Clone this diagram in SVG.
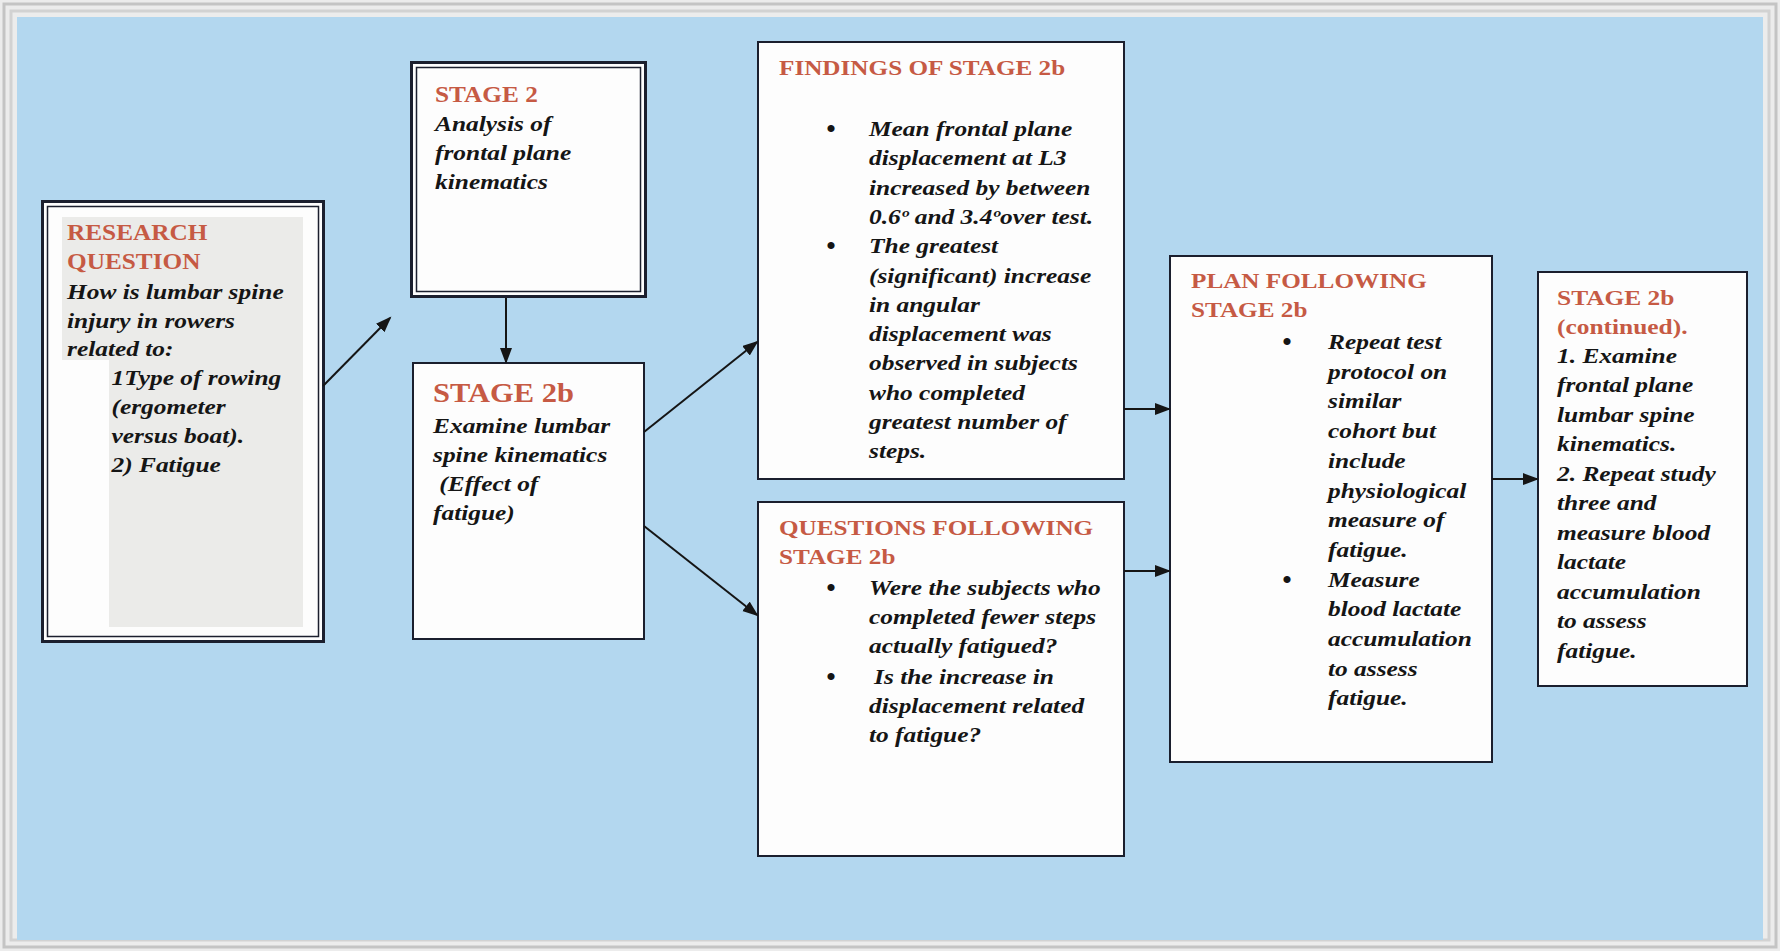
<svg xmlns="http://www.w3.org/2000/svg" width="1780" height="951" viewBox="0 0 1780 951">
<style>
.h{font-family:"Liberation Serif","Times New Roman",serif;font-weight:bold;fill:#c65a44;}
.b{font-family:"Liberation Serif","Times New Roman",serif;font-weight:bold;font-style:italic;fill:#151515;font-size:20px;}
.bul{font-family:"Liberation Serif","Times New Roman",serif;font-size:30px;fill:#151515;text-anchor:middle;}
.box{fill:#fdfdfd;stroke:#1b1f2e;stroke-width:2;}
.thick{fill:#fdfdfd;stroke:#1b1f2e;stroke-width:3;}
.thin{fill:none;stroke:#1b1f2e;stroke-width:1.5;}
.conn{stroke:#151515;stroke-width:2;fill:none;marker-end:url(#ah);}
</style>
<defs>
<marker id="ah" markerUnits="userSpaceOnUse" markerWidth="18" markerHeight="14" refX="14" refY="6" orient="auto">
<path d="M0,0 L16,6 L0,12 Z" fill="#151515"/>
</marker>
</defs>
<g id="frame">
<rect x="0" y="0" width="1780" height="951" fill="#ececec"/>
<rect x="4" y="4" width="1772" height="943" fill="none" stroke="#c4c4c4" stroke-width="3"/>
<rect x="11" y="11" width="1758" height="929" fill="none" stroke="#d2d2d2" stroke-width="3"/>
<rect x="17" y="17" width="1746" height="923" fill="#b3d7ef"/>
</g>
<g id="research">
<rect class="thick" x="42.5" y="201.5" width="281" height="440"/>
<rect class="thin" x="47.5" y="206.5" width="271" height="430"/>
<path d="M62,217 H303 V627 H109 V360 H62 Z" fill="#ebebe9"/>
<g transform="translate(67,0) scale(1.1,1)">
<text class="h" font-size="23" x="0" y="240">RESEARCH</text>
<text class="h" font-size="23" x="0" y="269">QUESTION</text>
</g>
<g transform="translate(67,0) scale(1.27,1)">
<text class="b" x="0" y="299">How is lumbar spine</text>
<text class="b" x="0" y="328">injury in rowers</text>
<text class="b" x="0" y="356">related to:</text>
<text class="b" x="35" y="385">1Type of rowing</text>
<text class="b" x="35" y="414">(ergometer</text>
<text class="b" x="35" y="443">versus boat).</text>
<text class="b" x="35" y="472">2) Fatigue</text>
</g>
</g>
<g id="stage2">
<rect class="thick" x="411.5" y="62.5" width="234" height="234"/>
<rect class="thin" x="416.5" y="67.5" width="224" height="224"/>
<g transform="translate(435,0) scale(1.1,1)">
<text class="h" font-size="23" x="0" y="102">STAGE 2</text>
</g>
<g transform="translate(435,0) scale(1.27,1)">
<text class="b" x="0" y="131">Analysis of</text>
<text class="b" x="0" y="160">frontal plane</text>
<text class="b" x="0" y="189">kinematics</text>
</g>
</g>
<g id="stage2b">
<rect class="box" x="413" y="363" width="231" height="276"/>
<g transform="translate(433,0) scale(1.13,1)">
<text class="h" font-size="27" x="0" y="402">STAGE 2b</text>
</g>
<g transform="translate(433,0) scale(1.27,1)">
<text class="b" x="0" y="433">Examine lumbar</text>
<text class="b" x="0" y="462">spine kinematics</text>
<text class="b" x="5" y="491">(Effect of</text>
<text class="b" x="0" y="520">fatigue)</text>
</g>
</g>
<g id="findings">
<rect class="box" x="758" y="42" width="366" height="437"/>
<g transform="translate(779,0) scale(1.26,1)">
<text class="h" font-size="20" x="0" y="75">FINDINGS OF STAGE 2b</text>
</g>
<text class="bul" x="831" y="139">•</text>
<text class="bul" x="831" y="256">•</text>
<g transform="translate(869,0) scale(1.27,1)">
<text class="b" x="0" y="136">Mean frontal plane</text>
<text class="b" x="0" y="165">displacement at L3</text>
<text class="b" x="0" y="195">increased by between</text>
<text class="b" x="0" y="224">0.6º and 3.4ºover test.</text>
<text class="b" x="0" y="253">The greatest</text>
<text class="b" x="0" y="283">(significant) increase</text>
<text class="b" x="0" y="312">in angular</text>
<text class="b" x="0" y="341">displacement was</text>
<text class="b" x="0" y="370">observed in subjects</text>
<text class="b" x="0" y="400">who completed</text>
<text class="b" x="0" y="429">greatest number of</text>
<text class="b" x="0" y="458">steps.</text>
</g>
</g>
<g id="questions">
<rect class="box" x="758" y="502" width="366" height="354"/>
<g transform="translate(779,0) scale(1.26,1)">
<text class="h" font-size="20" x="0" y="535">QUESTIONS FOLLOWING</text>
<text class="h" font-size="20" x="0" y="564">STAGE 2b</text>
</g>
<text class="bul" x="831" y="598">•</text>
<text class="bul" x="831" y="687">•</text>
<g transform="translate(869,0) scale(1.27,1)">
<text class="b" x="0" y="595">Were the subjects who</text>
<text class="b" x="0" y="624">completed fewer steps</text>
<text class="b" x="0" y="653">actually fatigued?</text>
<text class="b" x="4" y="684">Is the increase in</text>
<text class="b" x="0" y="713">displacement related</text>
<text class="b" x="0" y="742">to fatigue?</text>
</g>
</g>
<g id="plan">
<rect class="box" x="1170" y="256" width="322" height="506"/>
<g transform="translate(1191,0) scale(1.26,1)">
<text class="h" font-size="20" x="0" y="288">PLAN FOLLOWING</text>
<text class="h" font-size="20" x="0" y="317">STAGE 2b</text>
</g>
<text class="bul" x="1287" y="352">•</text>
<text class="bul" x="1287" y="590">•</text>
<g transform="translate(1328,0) scale(1.27,1)">
<text class="b" x="0" y="349">Repeat test</text>
<text class="b" x="0" y="379">protocol on</text>
<text class="b" x="0" y="408">similar</text>
<text class="b" x="0" y="438">cohort but</text>
<text class="b" x="0" y="468">include</text>
<text class="b" x="0" y="498">physiological</text>
<text class="b" x="0" y="527">measure of</text>
<text class="b" x="0" y="557">fatigue.</text>
<text class="b" x="0" y="587">Measure</text>
<text class="b" x="0" y="616">blood lactate</text>
<text class="b" x="0" y="646">accumulation</text>
<text class="b" x="0" y="676">to assess</text>
<text class="b" x="0" y="705">fatigue.</text>
</g>
</g>
<g id="continued">
<rect class="box" x="1538" y="272" width="209" height="414"/>
<g transform="translate(1557,0) scale(1.27,1)">
<text class="h" font-size="20" x="0" y="305">STAGE 2b</text>
<text class="h" font-size="20" x="0" y="334">(continued).</text>
<text class="b" x="0" y="363">1. Examine</text>
<text class="b" x="0" y="392">frontal plane</text>
<text class="b" x="0" y="422">lumbar spine</text>
<text class="b" x="0" y="451">kinematics.</text>
<text class="b" x="0" y="481">2. Repeat study</text>
<text class="b" x="0" y="510">three and</text>
<text class="b" x="0" y="540">measure blood</text>
<text class="b" x="0" y="569">lactate</text>
<text class="b" x="0" y="599">accumulation</text>
<text class="b" x="0" y="628">to assess</text>
<text class="b" x="0" y="658">fatigue.</text>
</g>
</g>
<g id="connectors">
<line class="conn" x1="323" y1="386" x2="390" y2="318"/>
<line class="conn" x1="506" y1="298" x2="506" y2="362"/>
<line class="conn" x1="644" y1="432" x2="757" y2="342"/>
<line class="conn" x1="644" y1="526" x2="757" y2="615"/>
<line class="conn" x1="1124" y1="409" x2="1169" y2="409"/>
<line class="conn" x1="1124" y1="571" x2="1169" y2="571"/>
<line class="conn" x1="1492" y1="479" x2="1537" y2="479"/>
</g>
</svg>
